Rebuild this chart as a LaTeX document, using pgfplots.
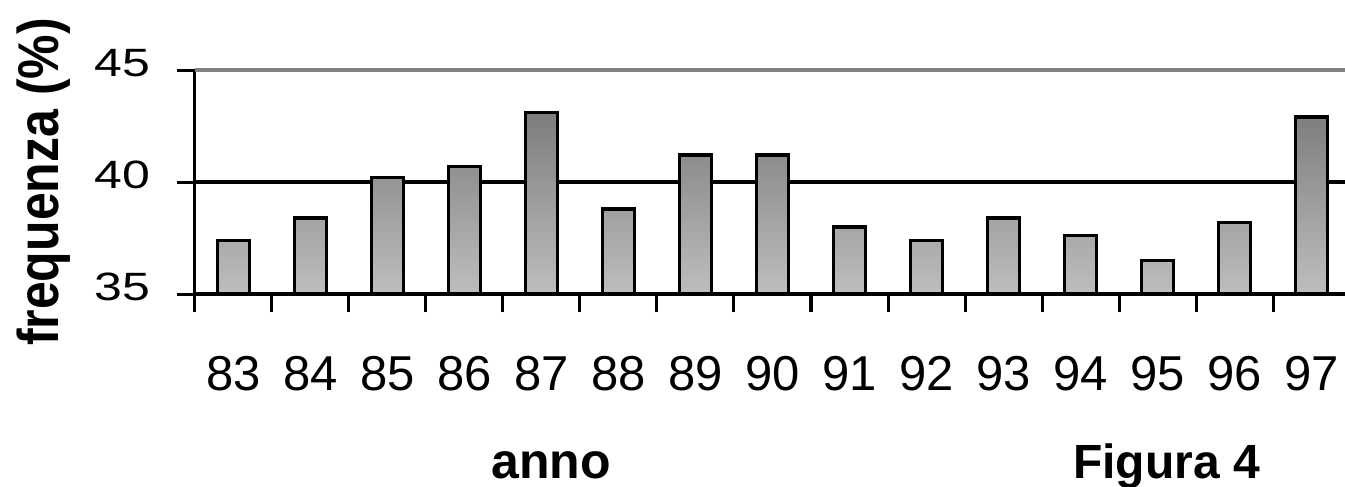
\documentclass[border=0pt]{standalone}
\usepackage{pgfplots}
\pgfplotsset{compat=1.18}
\usepackage{fontspec}
\setmainfont{Liberation Sans}
\usepackage{graphicx}
\definecolor{bartop}{RGB}{125,125,125}
\definecolor{barbot}{RGB}{190,190,190}
\definecolor{grid45}{RGB}{128,128,128}
\begin{document}
\begin{tikzpicture}
\path[use as bounding box] (-97.5pt,-96.5pt) rectangle (575pt,147pt);
\begin{axis}[
  at={(0pt,0pt)}, anchor=south west,
  scale only axis, width=577.5pt, height=112pt,
  xmin=-0.5, xmax=14.5, ymin=0, ymax=10,
  y filter/.expression={y-35},
  clip=false,
  axis x line*=bottom, axis y line*=left,
  axis line style={black, line width=1.5pt, -},
  tick align=outside,
  major tick length=9pt,
  tick style={black, line width=1.5pt},
  xtick={-0.5,0.5,...,14.5},
  xticklabels={},
  extra x ticks={0,1,...,14},
  extra x tick labels={83,84,85,86,87,88,89,90,91,92,93,94,95,96,97},
  extra x tick style={major tick length=0pt},
  x tick label style={font=\fontsize{24.5}{24.5}\selectfont, anchor=base, inner sep=0pt, yshift=-48pt},
  ytick={0,5},
  yticklabels={\scalebox{1}[0.79]{35},\scalebox{1}[0.79]{40}},
  extra y ticks={10},
  extra y tick labels={\scalebox{1}[0.79]{45}},
  ymajorgrids,
  grid style={black, line width=1.6pt},
  extra y tick style={grid style={grid45, line width=2pt}},
  y tick label style={font=\fontsize{25}{25}\selectfont, anchor=east, inner sep=0pt, xshift=-13pt, yshift=3.5pt},
  ylabel={\scalebox{1}[1.15]{\bfseries frequenza (\%)}},
  ylabel style={at={(axis description cs:-0.118,0.5)}, anchor=base, inner sep=0pt, font=\fontsize{25}{25}\selectfont},
  xlabel={\bfseries anno},
  xlabel style={at={(axis description cs:0.30823,0)}, anchor=base, inner sep=0pt, yshift=-92pt, font=\fontsize{25}{25}\selectfont},
]
\addplot[ybar, bar width=16pt, draw=black, line width=1.7pt, top color=bartop, bottom color=barbot]
  coordinates {(0,37.4) (1,38.4) (2,40.2) (3,40.7) (4,43.1) (5,38.8) (6,41.2) (7,41.2)
               (8,38.0) (9,37.4) (10,38.4) (11,37.6) (12,36.5) (13,38.2) (14,42.9)};
\node[anchor=base, inner sep=0pt, yshift=-92pt, font=\bfseries\fontsize{24}{24}\selectfont] at (axis description cs:0.84113,0) {Figura 4};
\end{axis}
\end{tikzpicture}
\end{document}
